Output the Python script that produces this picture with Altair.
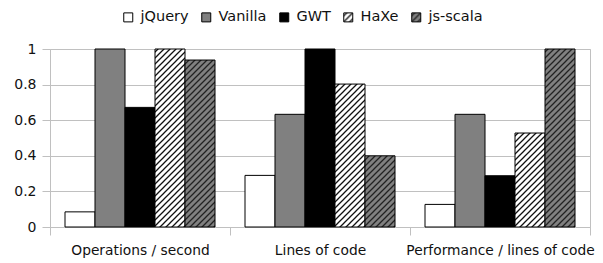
import altair as alt
import pandas as pd
import altair.utils.html as _h

categories = ["Operations / second", "Lines of code", "Performance / lines of code"]
series = ["jQuery", "Vanilla", "GWT", "HaXe", "js-scala"]
jquery = [0.085, 0.29, 0.127]
vanilla = [1.0, 0.633, 0.633]
gwt = [0.672, 1.0, 0.288]
haxe = [1.0, 0.803, 0.528]
jsscala = [0.938, 0.40, 1.0]
fills = ["#ffffff", "#808080", "#000000", "url(#hatchW)", "url(#hatchG)"]
y_ticks = [0, 0.2, 0.4, 0.6, 0.8, 1]

values = {"jQuery": jquery, "Vanilla": vanilla, "GWT": gwt, "HaXe": haxe, "js-scala": jsscala}
rows = []
for s in series:
    for c, v in zip(categories, values[s]):
        rows.append({"category": c, "series": s, "value": v})
df = pd.DataFrame(rows)

# hatch patterns referenced by the fill scale range
DEFS = (
    '<svg width="0" height="0" style="position:absolute;left:0;top:0"><defs>'
    '<pattern id="hatchW" patternUnits="userSpaceOnUse" width="6" height="6">'
    '<rect width="6" height="6" fill="#ffffff"/>'
    '<path d="M-1,1 L1,-1 M0,6 L6,0 M5,7 L7,5" stroke="#111" stroke-width="1.3"/></pattern>'
    '<pattern id="hatchG" patternUnits="userSpaceOnUse" width="6" height="6">'
    '<rect width="6" height="6" fill="#808080"/>'
    '<path d="M-1,1 L1,-1 M0,6 L6,0 M5,7 L7,5" stroke="#222" stroke-width="1.3"/></pattern>'
    '</defs></svg>'
)
_orig = _h.TEMPLATES["standard"]


class _Tmpl:
    def render(self, **kw):
        return _orig.render(**kw).replace("<body>", "<body>" + DEFS, 1)


_h.TEMPLATES["standard"] = _Tmpl()

grid = "#c0c0c0"
font = "DejaVu Sans"

chart = alt.Chart(df).mark_bar(stroke="black", strokeWidth=1).encode(
    x=alt.X(
        "category:N", sort=categories,
        scale=alt.Scale(paddingInner=0, paddingOuter=0),
        axis=alt.Axis(title=None, labelAngle=0, tickBand="extent", tickSize=8,
                      domainColor=grid, tickColor=grid, labelFont=font,
                      labelFontSize=13.8, labelPadding=8, labelLimit=0,
                      labelColor="#111", grid=False),
    ),
    xOffset=alt.XOffset("series:N", sort=series,
                        scale=alt.Scale(paddingInner=0, paddingOuter=0.5)),
    y=alt.Y(
        "value:Q", scale=alt.Scale(domain=[0, 1], nice=False),
        axis=alt.Axis(title=None, values=y_ticks, format="~g", tickSize=8,
                      domainColor=grid, tickColor=grid, gridColor=grid,
                      labelFont=font, labelFontSize=14, labelPadding=6,
                      labelColor="#111"),
    ),
    fill=alt.Fill(
        "series:N", sort=series,
        scale=alt.Scale(domain=series, range=fills),
        legend=alt.Legend(title=None, orient="none", legendX=71, legendY=-39,
                          direction="horizontal", symbolType="square",
                          symbolSize=81, symbolStrokeColor="black",
                          symbolStrokeWidth=1, labelFont=font, labelFontSize=14.5,
                          labelOffset=5, columnPadding=10, labelColor="#111"),
    ),
).properties(
    width=540, height=178, autosize="none",
    padding={"left": 42, "top": 41, "right": 5, "bottom": 36},
).configure_view(stroke=grid, strokeWidth=1)

chart.save("out.html", embed_options={"renderer": "svg", "actions": False})
